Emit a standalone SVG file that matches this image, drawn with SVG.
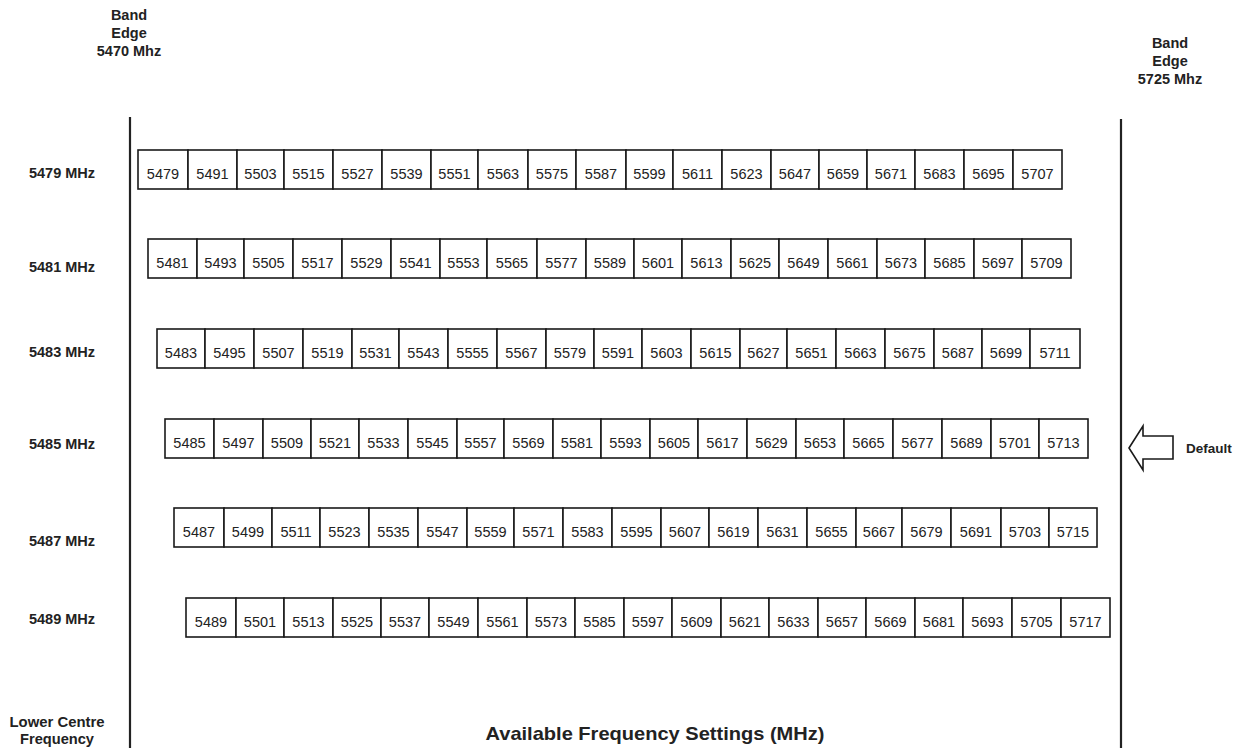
<svg xmlns="http://www.w3.org/2000/svg" width="1252" height="748" viewBox="0 0 1252 748">
<style>
.bg{fill:#ffffff}
.c rect{fill:#ffffff;stroke:#1a1a1a;stroke-width:1.6}
.c text{font-family:"Liberation Sans",Arial,sans-serif;font-size:14.5px;fill:#222;text-anchor:middle}
.lbl{font-family:"Liberation Sans",Arial,sans-serif;font-size:14.5px;font-weight:bold;fill:#222;text-anchor:middle}
.nar{font-family:"Liberation Sans Narrow","Liberation Sans",Arial,sans-serif;font-weight:bold;fill:#222;text-anchor:middle}
.edge{stroke:#222;stroke-width:2.2;fill:none}
</style>
<rect class="bg" x="0" y="0" width="1252" height="748"/>

<g id="band-edge-left">
<text class="lbl" x="129" y="20">Band</text>
<text class="lbl" x="129" y="38">Edge</text>
<text class="lbl" x="129" y="56">5470 Mhz</text>
</g>
<g id="band-edge-right">
<text class="lbl" x="1170" y="48">Band</text>
<text class="lbl" x="1170" y="66">Edge</text>
<text class="lbl" x="1170" y="84">5725 Mhz</text>
</g>

<g id="connectors">
<line class="edge" x1="130" y1="117" x2="130" y2="748"/>
<line class="edge" x1="1121" y1="119" x2="1121" y2="748"/>
</g>

<g id="row-labels">
<text class="lbl" x="62" y="178">5479 MHz</text>
<text class="lbl" x="62" y="272">5481 MHz</text>
<text class="lbl" x="62" y="357">5483 MHz</text>
<text class="lbl" x="62" y="449">5485 MHz</text>
<text class="lbl" x="62" y="546">5487 MHz</text>
<text class="lbl" x="62" y="624">5489 MHz</text>
</g>

<g id="row-5479" class="c">
<rect x="138" y="150" width="50" height="39"/><text x="163" y="178.5">5479</text>
<rect x="188" y="150" width="49" height="39"/><text x="212.5" y="178.5">5491</text>
<rect x="237" y="150" width="47" height="39"/><text x="260.5" y="178.5">5503</text>
<rect x="284" y="150" width="49" height="39"/><text x="308.5" y="178.5">5515</text>
<rect x="333" y="150" width="49" height="39"/><text x="357.5" y="178.5">5527</text>
<rect x="382" y="150" width="49" height="39"/><text x="406.5" y="178.5">5539</text>
<rect x="431" y="150" width="47" height="39"/><text x="454.5" y="178.5">5551</text>
<rect x="478" y="150" width="50" height="39"/><text x="503" y="178.5">5563</text>
<rect x="528" y="150" width="48" height="39"/><text x="552" y="178.5">5575</text>
<rect x="576" y="150" width="50" height="39"/><text x="601" y="178.5">5587</text>
<rect x="626" y="150" width="47" height="39"/><text x="649.5" y="178.5">5599</text>
<rect x="673" y="150" width="49" height="39"/><text x="697.5" y="178.5">5611</text>
<rect x="722" y="150" width="49" height="39"/><text x="746.5" y="178.5">5623</text>
<rect x="771" y="150" width="48" height="39"/><text x="795" y="178.5">5647</text>
<rect x="819" y="150" width="48" height="39"/><text x="843" y="178.5">5659</text>
<rect x="867" y="150" width="48" height="39"/><text x="891" y="178.5">5671</text>
<rect x="915" y="150" width="49" height="39"/><text x="939.5" y="178.5">5683</text>
<rect x="964" y="150" width="49" height="39"/><text x="988.5" y="178.5">5695</text>
<rect x="1013" y="150" width="49" height="39"/><text x="1037.5" y="178.5">5707</text>
</g>

<g id="row-5481" class="c">
<rect x="148" y="239" width="49" height="39"/><text x="172.5" y="267.5">5481</text>
<rect x="197" y="239" width="47" height="39"/><text x="220.5" y="267.5">5493</text>
<rect x="244" y="239" width="49" height="39"/><text x="268.5" y="267.5">5505</text>
<rect x="293" y="239" width="49" height="39"/><text x="317.5" y="267.5">5517</text>
<rect x="342" y="239" width="49" height="39"/><text x="366.5" y="267.5">5529</text>
<rect x="391" y="239" width="49" height="39"/><text x="415.5" y="267.5">5541</text>
<rect x="440" y="239" width="47" height="39"/><text x="463.5" y="267.5">5553</text>
<rect x="487" y="239" width="50" height="39"/><text x="512" y="267.5">5565</text>
<rect x="537" y="239" width="49" height="39"/><text x="561.5" y="267.5">5577</text>
<rect x="586" y="239" width="48" height="39"/><text x="610" y="267.5">5589</text>
<rect x="634" y="239" width="48" height="39"/><text x="658" y="267.5">5601</text>
<rect x="682" y="239" width="49" height="39"/><text x="706.5" y="267.5">5613</text>
<rect x="731" y="239" width="48" height="39"/><text x="755" y="267.5">5625</text>
<rect x="779" y="239" width="49" height="39"/><text x="803.5" y="267.5">5649</text>
<rect x="828" y="239" width="49" height="39"/><text x="852.5" y="267.5">5661</text>
<rect x="877" y="239" width="48" height="39"/><text x="901" y="267.5">5673</text>
<rect x="925" y="239" width="49" height="39"/><text x="949.5" y="267.5">5685</text>
<rect x="974" y="239" width="48" height="39"/><text x="998" y="267.5">5697</text>
<rect x="1022" y="239" width="49" height="39"/><text x="1046.5" y="267.5">5709</text>
</g>

<g id="row-5483" class="c">
<rect x="157" y="329" width="48" height="39"/><text x="181" y="357.5">5483</text>
<rect x="205" y="329" width="49" height="39"/><text x="229.5" y="357.5">5495</text>
<rect x="254" y="329" width="49" height="39"/><text x="278.5" y="357.5">5507</text>
<rect x="303" y="329" width="49" height="39"/><text x="327.5" y="357.5">5519</text>
<rect x="352" y="329" width="47" height="39"/><text x="375.5" y="357.5">5531</text>
<rect x="399" y="329" width="49" height="39"/><text x="423.5" y="357.5">5543</text>
<rect x="448" y="329" width="49" height="39"/><text x="472.5" y="357.5">5555</text>
<rect x="497" y="329" width="49" height="39"/><text x="521.5" y="357.5">5567</text>
<rect x="546" y="329" width="48" height="39"/><text x="570" y="357.5">5579</text>
<rect x="594" y="329" width="48" height="39"/><text x="618" y="357.5">5591</text>
<rect x="642" y="329" width="49" height="39"/><text x="666.5" y="357.5">5603</text>
<rect x="691" y="329" width="49" height="39"/><text x="715.5" y="357.5">5615</text>
<rect x="740" y="329" width="47" height="39"/><text x="763.5" y="357.5">5627</text>
<rect x="787" y="329" width="49" height="39"/><text x="811.5" y="357.5">5651</text>
<rect x="836" y="329" width="49" height="39"/><text x="860.5" y="357.5">5663</text>
<rect x="885" y="329" width="49" height="39"/><text x="909.5" y="357.5">5675</text>
<rect x="934" y="329" width="48" height="39"/><text x="958" y="357.5">5687</text>
<rect x="982" y="329" width="48" height="39"/><text x="1006" y="357.5">5699</text>
<rect x="1030" y="329" width="50" height="39"/><text x="1055" y="357.5">5711</text>
</g>

<g id="row-5485" class="c">
<rect x="165" y="419" width="49" height="39"/><text x="189.5" y="447.5">5485</text>
<rect x="214" y="419" width="49" height="39"/><text x="238.5" y="447.5">5497</text>
<rect x="263" y="419" width="48" height="39"/><text x="287" y="447.5">5509</text>
<rect x="311" y="419" width="48" height="39"/><text x="335" y="447.5">5521</text>
<rect x="359" y="419" width="49" height="39"/><text x="383.5" y="447.5">5533</text>
<rect x="408" y="419" width="49" height="39"/><text x="432.5" y="447.5">5545</text>
<rect x="457" y="419" width="47" height="39"/><text x="480.5" y="447.5">5557</text>
<rect x="504" y="419" width="49" height="39"/><text x="528.5" y="447.5">5569</text>
<rect x="553" y="419" width="48" height="39"/><text x="577" y="447.5">5581</text>
<rect x="601" y="419" width="49" height="39"/><text x="625.5" y="447.5">5593</text>
<rect x="650" y="419" width="48" height="39"/><text x="674" y="447.5">5605</text>
<rect x="698" y="419" width="49" height="39"/><text x="722.5" y="447.5">5617</text>
<rect x="747" y="419" width="49" height="39"/><text x="771.5" y="447.5">5629</text>
<rect x="796" y="419" width="48" height="39"/><text x="820" y="447.5">5653</text>
<rect x="844" y="419" width="49" height="39"/><text x="868.5" y="447.5">5665</text>
<rect x="893" y="419" width="49" height="39"/><text x="917.5" y="447.5">5677</text>
<rect x="942" y="419" width="49" height="39"/><text x="966.5" y="447.5">5689</text>
<rect x="991" y="419" width="48" height="39"/><text x="1015" y="447.5">5701</text>
<rect x="1039" y="419" width="49" height="39"/><text x="1063.5" y="447.5">5713</text>
</g>

<g id="row-5487" class="c">
<rect x="174" y="508" width="50" height="39"/><text x="199" y="536.5">5487</text>
<rect x="224" y="508" width="48" height="39"/><text x="248" y="536.5">5499</text>
<rect x="272" y="508" width="48" height="39"/><text x="296" y="536.5">5511</text>
<rect x="320" y="508" width="49" height="39"/><text x="344.5" y="536.5">5523</text>
<rect x="369" y="508" width="49" height="39"/><text x="393.5" y="536.5">5535</text>
<rect x="418" y="508" width="49" height="39"/><text x="442.5" y="536.5">5547</text>
<rect x="467" y="508" width="47" height="39"/><text x="490.5" y="536.5">5559</text>
<rect x="514" y="508" width="49" height="39"/><text x="538.5" y="536.5">5571</text>
<rect x="563" y="508" width="49" height="39"/><text x="587.5" y="536.5">5583</text>
<rect x="612" y="508" width="49" height="39"/><text x="636.5" y="536.5">5595</text>
<rect x="661" y="508" width="48" height="39"/><text x="685" y="536.5">5607</text>
<rect x="709" y="508" width="49" height="39"/><text x="733.5" y="536.5">5619</text>
<rect x="758" y="508" width="49" height="39"/><text x="782.5" y="536.5">5631</text>
<rect x="807" y="508" width="49" height="39"/><text x="831.5" y="536.5">5655</text>
<rect x="856" y="508" width="46" height="39"/><text x="879" y="536.5">5667</text>
<rect x="902" y="508" width="49" height="39"/><text x="926.5" y="536.5">5679</text>
<rect x="951" y="508" width="50" height="39"/><text x="976" y="536.5">5691</text>
<rect x="1001" y="508" width="48" height="39"/><text x="1025" y="536.5">5703</text>
<rect x="1049" y="508" width="48" height="39"/><text x="1073" y="536.5">5715</text>
</g>

<g id="row-5489" class="c">
<rect x="186" y="598" width="50" height="39"/><text x="211" y="626.5">5489</text>
<rect x="236" y="598" width="48" height="39"/><text x="260" y="626.5">5501</text>
<rect x="284" y="598" width="49" height="39"/><text x="308.5" y="626.5">5513</text>
<rect x="333" y="598" width="48" height="39"/><text x="357" y="626.5">5525</text>
<rect x="381" y="598" width="48" height="39"/><text x="405" y="626.5">5537</text>
<rect x="429" y="598" width="49" height="39"/><text x="453.5" y="626.5">5549</text>
<rect x="478" y="598" width="49" height="39"/><text x="502.5" y="626.5">5561</text>
<rect x="527" y="598" width="48" height="39"/><text x="551" y="626.5">5573</text>
<rect x="575" y="598" width="49" height="39"/><text x="599.5" y="626.5">5585</text>
<rect x="624" y="598" width="48" height="39"/><text x="648" y="626.5">5597</text>
<rect x="672" y="598" width="49" height="39"/><text x="696.5" y="626.5">5609</text>
<rect x="721" y="598" width="48" height="39"/><text x="745" y="626.5">5621</text>
<rect x="769" y="598" width="49" height="39"/><text x="793.5" y="626.5">5633</text>
<rect x="818" y="598" width="48" height="39"/><text x="842" y="626.5">5657</text>
<rect x="866" y="598" width="49" height="39"/><text x="890.5" y="626.5">5669</text>
<rect x="915" y="598" width="48" height="39"/><text x="939" y="626.5">5681</text>
<rect x="963" y="598" width="49" height="39"/><text x="987.5" y="626.5">5693</text>
<rect x="1012" y="598" width="49" height="39"/><text x="1036.5" y="626.5">5705</text>
<rect x="1061" y="598" width="49" height="39"/><text x="1085.5" y="626.5">5717</text>
</g>

<g id="default-arrow">
<polygon points="1129,448 1143,426 1143,436 1173,436 1173,459 1143,459 1143,470" fill="#ffffff" stroke="#1a1a1a" stroke-width="1.6" stroke-linejoin="miter"/>
<text class="lbl" x="1209" y="453" style="font-size:13.5px">Default</text>
</g>

<g id="footer">
<text class="nar" x="57" y="727" font-size="14" textLength="95" lengthAdjust="spacingAndGlyphs">Lower Centre</text>
<text class="nar" x="57" y="744" font-size="14" textLength="74" lengthAdjust="spacingAndGlyphs">Frequency</text>
<text class="nar" x="655" y="740" font-size="19" textLength="339" lengthAdjust="spacingAndGlyphs">Available Frequency Settings (MHz)</text>
</g>
</svg>
